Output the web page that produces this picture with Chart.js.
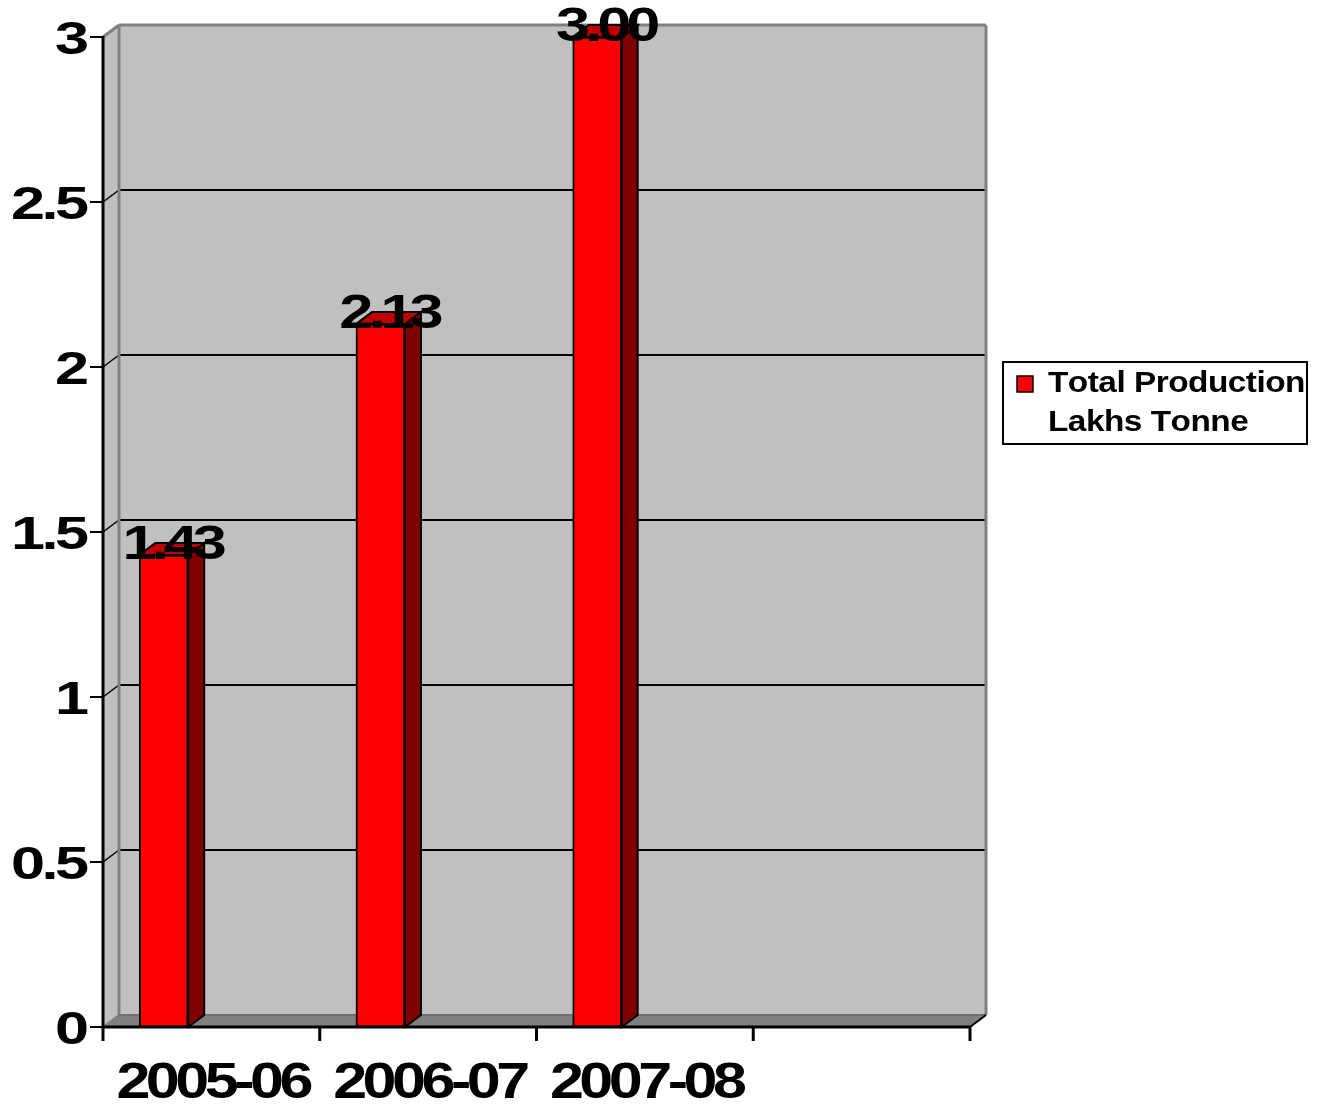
<!DOCTYPE html>
<html>
<head>
<meta charset="utf-8">
<title>Total Production Lakhs Tonne</title>
<script src="https://cdn.jsdelivr.net/npm/chart.js@4/dist/chart.umd.min.js"></script>
<style>
  html, body { margin: 0; padding: 0; background: #ffffff; }
  canvas { display: block; }
</style>
</head>
<body>
<canvas id="chart" width="1320" height="1105"></canvas>
<script>
// Production by year (lakh tonnes); the fourth slot on the category axis is left empty
const categories = ['2005-06', '2006-07', '2007-08', ''];
const production = [1.43, 2.13, 3.00, null];
const valueLabels = ['1.43', '2.13', '3.00', ''];
const yTicks = [0, 0.5, 1, 1.5, 2, 2.5, 3];
const yTickLabels = ['0', '0.5', '1', '1.5', '2', '2.5', '3'];
const legendLines = ['Total Production', 'Lakhs Tonne'];

// 3D look: how far the back wall and bar faces recede (pixels)
const DEPTH_X = 16;
const DEPTH_Y = -12;
const FONT = '"Liberation Sans", Arial, sans-serif';

// Bold text drawn with a horizontal stretch and tightened spacing
function drawStretched(ctx, text, x, y, px, sx, spacing, align) {
  ctx.save();
  ctx.font = `bold ${px}px ${FONT}`;
  ctx.textAlign = 'left';
  ctx.textBaseline = 'alphabetic';
  ctx.fillStyle = '#000000';
  const chars = [...text];
  const adv = chars.map(c => ctx.measureText(c).width * sx);
  const total = adv.reduce((s, a) => s + a, 0) + spacing * (chars.length - 1);
  let cx = align === 'center' ? x - total / 2 : align === 'right' ? x - total : x;
  chars.forEach((c, i) => {
    ctx.save();
    ctx.translate(cx, y);
    ctx.scale(sx, 1);
    ctx.fillText(c, 0, 0);
    ctx.restore();
    cx += adv[i] + spacing;
  });
  ctx.restore();
}

function poly(ctx, pts, fill, stroke, lw) {
  ctx.beginPath();
  ctx.moveTo(pts[0][0], pts[0][1]);
  for (let i = 1; i < pts.length; i++) ctx.lineTo(pts[i][0], pts[i][1]);
  ctx.closePath();
  if (fill) { ctx.fillStyle = fill; ctx.fill(); }
  if (stroke) { ctx.strokeStyle = stroke; ctx.lineWidth = lw; ctx.stroke(); }
}

function line(ctx, x1, y1, x2, y2, color, lw) {
  ctx.beginPath();
  ctx.moveTo(x1, y1);
  ctx.lineTo(x2, y2);
  ctx.strokeStyle = color;
  ctx.lineWidth = lw;
  ctx.stroke();
}

const frame3d = {
  id: 'frame3d',
  beforeDatasetsDraw(chart) {
    const { ctx, chartArea: a, scales } = chart;
    const y = scales.y, x = scales.x;
    const dx = DEPTH_X, dy = DEPTH_Y;
    ctx.save();
    ctx.lineCap = 'butt';

    // side wall, back wall and floor
    poly(ctx, [[a.left, a.top], [a.left + dx, a.top + dy], [a.left + dx, a.bottom + dy], [a.left, a.bottom]], '#c0c0c0');
    poly(ctx, [[a.left + dx, a.top + dy], [a.right + dx, a.top + dy], [a.right + dx, a.bottom + dy], [a.left + dx, a.bottom + dy]], '#c0c0c0');
    poly(ctx, [[a.left, a.bottom], [a.left + dx, a.bottom + dy], [a.right + dx, a.bottom + dy], [a.right, a.bottom]], '#808080');

    // gridlines on the back wall and their runs across the side wall
    yTicks.forEach(v => {
      const yy = y.getPixelForValue(v);
      if (v > y.min && v < y.max) {
        line(ctx, a.left + dx, yy + dy, a.right + dx, yy + dy, '#000000', 2);
        line(ctx, a.left, yy, a.left + dx, yy + dy, '#000000', 1.5);
      }
    });

    // wall edges
    line(ctx, a.left + dx, a.top + dy, a.left + dx, a.bottom + dy, '#808080', 3);
    line(ctx, a.left, a.top, a.left + dx, a.top + dy, '#808080', 3);
    line(ctx, a.left + dx, a.top + dy, a.right + dx, a.top + dy, '#808080', 3);
    line(ctx, a.right + dx, a.top + dy, a.right + dx, a.bottom + dy, '#808080', 3);
    line(ctx, a.left + dx, a.bottom + dy, a.right + dx, a.bottom + dy, '#707070', 2);
    line(ctx, a.left, a.bottom, a.left + dx, a.bottom + dy, '#808080', 2);

    // value axis with outward tick marks
    line(ctx, a.left, a.top - 1, a.left, a.bottom + 1, '#000000', 3);
    yTicks.forEach(v => {
      const yy = y.getPixelForValue(v);
      line(ctx, a.left - 13, yy, a.left, yy, '#000000', 2);
    });

    // category axis, floor corner and tick marks at category boundaries
    line(ctx, a.left, a.bottom, a.right, a.bottom, '#000000', 3);
    line(ctx, a.right, a.bottom, a.right + dx, a.bottom + dy, '#000000', 2);
    const step = (a.right - a.left) / categories.length;
    for (let i = 0; i <= categories.length; i++) {
      const tx = x.left + i * step;
      line(ctx, tx, a.bottom, tx, a.bottom + 14, '#000000', 3);
    }

    // side and top faces of each column
    const meta = chart.getDatasetMeta(0);
    meta.data.forEach((el, i) => {
      if (production[i] == null) return;
      const p = el.getProps(['x', 'y', 'base', 'width'], true);
      const l = p.x - p.width / 2, r = p.x + p.width / 2;
      poly(ctx, [[r, p.y], [r + dx, p.y + dy], [r + dx, p.base + dy], [r, p.base]], '#800000', '#000000', 2);
      poly(ctx, [[l, p.y], [l + dx, p.y + dy], [r + dx, p.y + dy], [r, p.y]], '#c00000', '#000000', 2);
    });
    ctx.restore();
  },
  afterDatasetsDraw(chart) {
    const { ctx, chartArea: a, scales } = chart;
    const y = scales.y, x = scales.x;

    // value labels above the columns
    const meta = chart.getDatasetMeta(0);
    meta.data.forEach((el, i) => {
      if (production[i] == null) return;
      const p = el.getProps(['x', 'y'], true);
      drawStretched(ctx, valueLabels[i], p.x + 11, p.y + 4, 49, 1.25, -5, 'center');
    });

    // value axis labels
    yTicks.forEach((v, i) => {
      const yy = y.getPixelForValue(v);
      drawStretched(ctx, yTickLabels[i], a.left - 14, yy + 16.5, 46, 1.33, -3.5, 'right');
    });

    // category labels
    categories.forEach((c, i) => {
      if (!c) return;
      drawStretched(ctx, c, x.getPixelForValue(i) + 3.5, a.bottom + 71, 50, 1.22, -4.5, 'center');
    });

    // legend box
    const lx = 1003, ly = 362, lw = 304, lh = 82;
    ctx.save();
    ctx.fillStyle = '#ffffff';
    ctx.fillRect(lx, ly, lw, lh);
    ctx.strokeStyle = '#000000';
    ctx.lineWidth = 2;
    ctx.strokeRect(lx, ly, lw, lh);
    ctx.fillStyle = chart.data.datasets[0].backgroundColor;
    ctx.fillRect(lx + 14, ly + 14, 16, 16);
    ctx.lineWidth = 1.5;
    ctx.strokeRect(lx + 14, ly + 14, 16, 16);
    ctx.restore();
    legendLines.forEach((t, i) => {
      drawStretched(ctx, t, lx + 45, ly + 30 + i * 39, 29, 1.15, -0.5, 'left');
    });
  }
};

new Chart(document.getElementById('chart'), {
  type: 'bar',
  data: {
    datasets: [{
      label: legendLines.join(' '),
      data: production.map((v, i) => ({ x: i, y: v })),
      xAxisID: 'xb',
      yAxisID: 'y',
      backgroundColor: '#ff0000',
      borderColor: '#000000',
      borderWidth: 2,
      borderSkipped: false,
      barThickness: 49
    }]
  },
  options: {
    responsive: false,
    animation: false,
    devicePixelRatio: 1,
    layout: { padding: { left: 103, top: 37, right: 350, bottom: 78 } },
    plugins: { legend: { display: false }, tooltip: { enabled: false } },
    scales: {
      x: { type: 'category', labels: categories, offset: true, display: false },
      xb: { type: 'linear', min: -0.28, max: 3.72, offset: false, display: false },
      y: { type: 'linear', min: 0, max: 3, ticks: { stepSize: 0.5 }, display: false }
    }
  },
  plugins: [frame3d]
});
</script>
</body>
</html>
